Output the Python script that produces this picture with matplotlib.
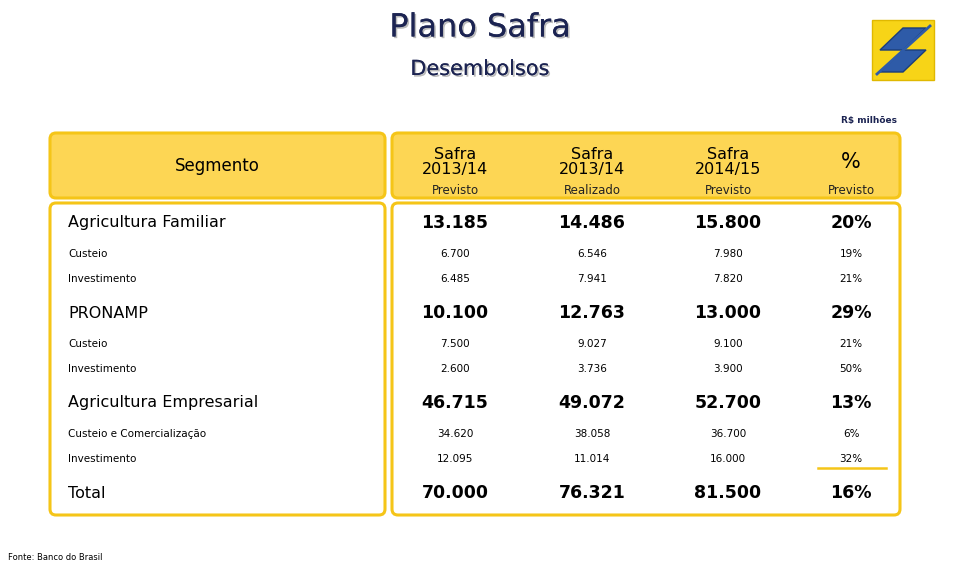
import matplotlib
matplotlib.use("Agg")
import matplotlib.pyplot as plt
import matplotlib.patheffects as pe
from matplotlib.patches import FancyBboxPatch, Rectangle, Polygon

# table data
row_labels = ["Agricultura Familiar", "Custeio", "Investimento",
              "PRONAMP", "Custeio", "Investimento",
              "Agricultura Empresarial", "Custeio e Comercialização", "Investimento",
              "Total"]
is_major = [True, False, False, True, False, False, True, False, False, True]
prev_1314 = ["13.185", "6.700", "6.485", "10.100", "7.500", "2.600",
             "46.715", "34.620", "12.095", "70.000"]
real_1314 = ["14.486", "6.546", "7.941", "12.763", "9.027", "3.736",
             "49.072", "38.058", "11.014", "76.321"]
prev_1415 = ["15.800", "7.980", "7.820", "13.000", "9.100", "3.900",
             "52.700", "36.700", "16.000", "81.500"]
pct = ["20%", "19%", "21%", "29%", "21%", "50%", "13%", "6%", "32%", "16%"]
col_heads = [("Safra\n2013/14", "Previsto"), ("Safra\n2013/14", "Realizado"),
             ("Safra\n2014/15", "Previsto"), ("%", "Previsto")]

row_y = [223, 254, 279, 313, 344, 369, 403, 434, 459, 493]
col_x = [455, 592, 728, 851]

YEL = "#F5C518"
YEL_FILL = "#FDD654"

fig = plt.figure(figsize=(9.6, 5.67), dpi=100)
ax = fig.add_axes([0, 0, 1, 1])
ax.set_xlim(0, 960)
ax.set_ylim(567, 0)
ax.axis("off")


def box(x0, y0, x1, y1, fill):
    ax.add_patch(FancyBboxPatch((x0, y0), x1 - x0, y1 - y0,
                                boxstyle="round,pad=0,rounding_size=6",
                                fc=fill, ec=YEL, lw=2.2))


box(50, 133, 385, 198, YEL_FILL)
box(50, 203, 385, 515, "white")
box(392, 133, 900, 198, YEL_FILL)
box(392, 203, 900, 515, "white")

# title
shadow = [pe.withSimplePatchShadow(offset=(1.2, -1.2), shadow_rgbFace="#aaaaaa",
                                   alpha=0.8), pe.Normal()]
ax.text(480, 28, "Plano Safra", ha="center", va="center", fontsize=23,
        color="#1c2452", path_effects=shadow)
ax.text(480, 69, "Desembolsos", ha="center", va="center", fontsize=15,
        color="#1c2452", path_effects=shadow)
ax.text(897, 120, "R$ milhões", ha="right", va="center", fontsize=6.5,
        color="#1c2452", fontweight="bold")

# logo
ax.add_patch(Rectangle((872, 20), 62, 60, fc="#F7D417", ec="#E0B800", lw=1))
ax.add_patch(Polygon([(880, 50), (903, 28), (926, 28), (903, 50)],
                     closed=True, fc="#2E5BA8", ec="#1b3d7a"))
ax.add_patch(Polygon([(880, 72), (903, 50), (926, 50), (903, 72)],
                     closed=True, fc="#2E5BA8", ec="#1b3d7a"))
ax.plot([877, 930], [74, 26], color="#2E5BA8", lw=2)

# header
ax.text(217, 166, "Segmento", ha="center", va="center", fontsize=12)
for x, (top, sub) in zip(col_x, col_heads):
    fs = 15 if top == "%" else 11.5
    ax.text(x, 162, top, ha="center", va="center", fontsize=fs, linespacing=1.0)
    ax.text(x, 190, sub, ha="center", va="center", fontsize=8.5, color="#222222")

# body
for i, y in enumerate(row_y):
    vals = [prev_1314[i], real_1314[i], prev_1415[i], pct[i]]
    if is_major[i]:
        ax.text(68, y, row_labels[i], ha="left", va="center", fontsize=11.5)
        for x, v in zip(col_x, vals):
            ax.text(x, y, v, ha="center", va="center", fontsize=12.5,
                    fontweight="bold")
    else:
        ax.text(68, y, row_labels[i], ha="left", va="center", fontsize=7.5)
        for x, v in zip(col_x, vals):
            ax.text(x, y, v, ha="center", va="center", fontsize=7.5)

ax.plot([818, 886], [468, 468], color=YEL, lw=1.8)

ax.text(8, 557, "Fonte: Banco do Brasil", ha="left", va="center", fontsize=6)

fig.savefig("out.png", dpi=100)
